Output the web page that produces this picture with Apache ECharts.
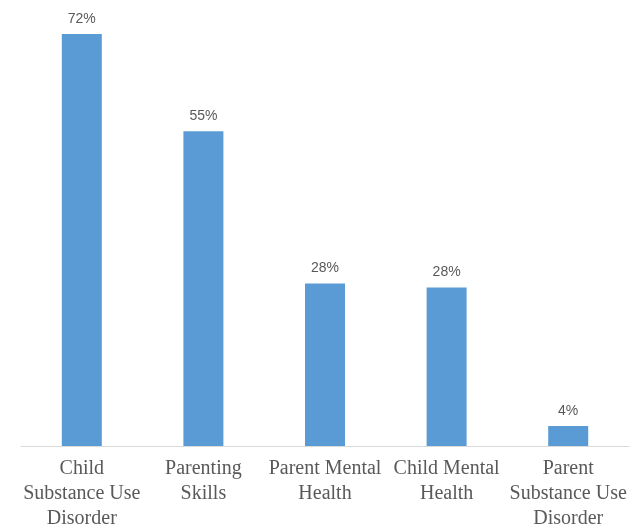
<!DOCTYPE html>
<html>
<head>
<meta charset="utf-8">
<script src="https://cdn.jsdelivr.net/npm/echarts@6/dist/echarts.min.js"></script>
<style>
html,body{margin:0;padding:0;background:#fff;}
#chart{width:632px;height:529px;}
</style>
</head>
<body>
<div id="chart"></div>
<script>
const categories = [
  "Child\nSubstance Use\nDisorder",
  "Parenting\nSkills",
  "Parent Mental\nHealth",
  "Child Mental\nHealth",
  "Parent\nSubstance Use\nDisorder"
];
const values = [72, 55, 28.4, 27.7, 3.5];

const chart = echarts.init(document.getElementById('chart'));
chart.setOption({
  animation: false,
  backgroundColor: '#ffffff',
  grid: { left: 21, right: 3, top: 34, bottom: 83, containLabel: false, outerBoundsMode: 'none' },
  xAxis: {
    type: 'category',
    data: categories,
    axisLine: { lineStyle: { color: '#d9d9d9', width: 1 } },
    axisTick: { show: false },
    axisLabel: {
      interval: 0,
      margin: 10,
      color: '#595959',
      fontFamily: 'Liberation Serif',
      fontSize: 20,
      lineHeight: 25
    }
  },
  yAxis: {
    type: 'value',
    min: 0,
    max: 72,
    show: false,
    splitLine: { show: false }
  },
  series: [{
    type: 'bar',
    data: values,
    barWidth: 40,
    itemStyle: { color: '#5b9bd5' },
    label: {
      show: true,
      position: 'top',
      distance: 8,
      color: '#595959',
      fontFamily: 'Liberation Sans',
      fontSize: 14,
      formatter: p => Math.round(p.value) + '%'
    }
  }]
});
</script>
</body>
</html>
